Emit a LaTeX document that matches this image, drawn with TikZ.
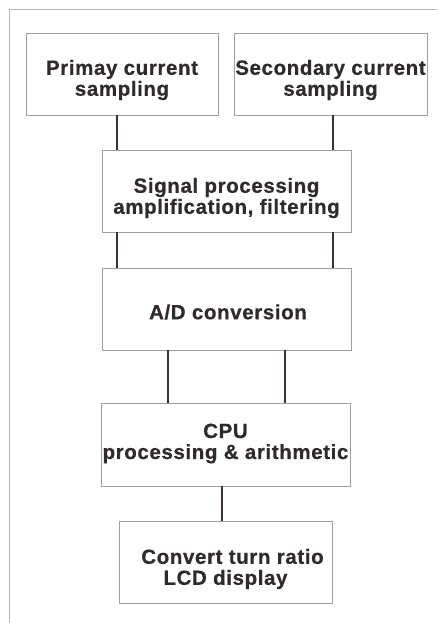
\documentclass[tikz,border=0pt]{standalone}
\usepackage{fontspec}
\newfontfamily\blockfont{Liberation Sans}[LetterSpace=3,BoldFeatures={FakeBold=0.6}]
\definecolor{framegray}{HTML}{B4B4B4}
\definecolor{boxgray}{HTML}{A0A0A0}
\definecolor{wirecol}{HTML}{3A3232}
\definecolor{inkcol}{HTML}{302B2B}
\begin{document}
\begin{tikzpicture}[x=1pt,y=-1pt,
  blockbox/.style={draw=boxgray, line width=0.9pt, inner sep=0pt, fill=white},
  blocktext/.style={text=inkcol, align=center, inner sep=0pt,
    font=\blockfont\bfseries\fontsize{20.5}{21}\selectfont},
  wire/.style={draw=wirecol, line width=2pt},
  frameline/.style={draw=framegray, line width=0.9pt}]
\useasboundingbox (0,0) rectangle (437,623);
\fill[white] (0,0) rectangle (437,623);
% open frame: top and left edges only
\draw[frameline] (437,9) -- (9,9) -- (9,623);

% blocks
\node[blockbox, minimum width=192pt, minimum height=82pt] (prim) at (122,74) {};
\node[blockbox, minimum width=193pt, minimum height=82pt] (sec) at (330.5,74) {};
\node[blockbox, minimum width=249pt, minimum height=82pt] (sig) at (226.5,191) {};
\node[blockbox, minimum width=249pt, minimum height=82pt] (adc) at (226.5,309) {};
\node[blockbox, minimum width=249pt, minimum height=83pt] (cpu) at (225.5,444.5) {};
\node[blockbox, minimum width=213pt, minimum height=82pt] (lcd) at (225.5,562) {};

% block labels
\node[blocktext] (tprim) at (122,80) {Primay current\\sampling};
\node[blocktext] (tsec) at (330.5,80) {Secondary current\\sampling};
\node[blocktext] (tsig) at (226.5,198) {Signal processing\\amplification, filtering};
\node[blocktext] (tadc) at (228,312) {A/D conversion};
\node[blocktext] (tcpu) at (225.5,443.5) {CPU\\processing \& arithmetic};
\node[blocktext] (tlcd) at (225.5,569) {\hspace*{14pt}Convert turn ratio\\LCD display};

% connector columns
\coordinate (colL) at (117,0);
\coordinate (colR) at (333,0);
\coordinate (colAL) at (168,0);
\coordinate (colAR) at (285,0);
\coordinate (colC) at (222,0);

% connectors
\draw[wire] (prim.south -| colL) -- (sig.north -| colL);
\draw[wire] (sec.south -| colR) -- (sig.north -| colR);
\draw[wire] (sig.south -| colL) -- (adc.north -| colL);
\draw[wire] (sig.south -| colR) -- (adc.north -| colR);
\draw[wire] (adc.south -| colAL) -- (cpu.north -| colAL);
\draw[wire] (adc.south -| colAR) -- (cpu.north -| colAR);
\draw[wire] (cpu.south -| colC) -- (lcd.north -| colC);
\end{tikzpicture}
\end{document}
